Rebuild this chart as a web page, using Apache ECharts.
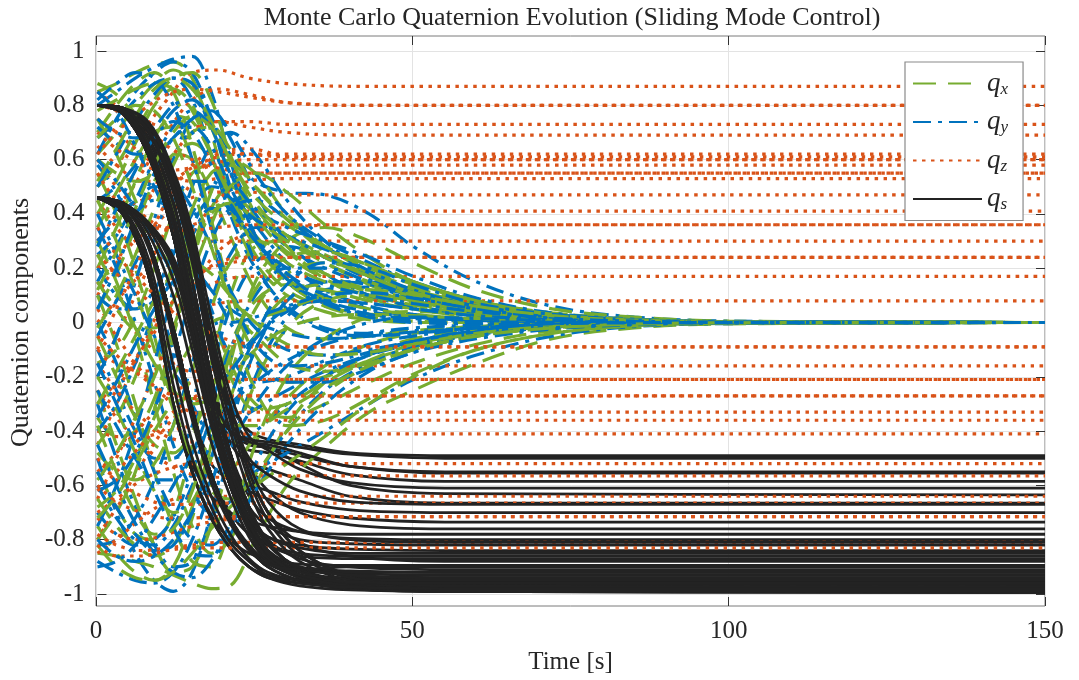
<!DOCTYPE html>
<html><head><meta charset="utf-8">
<script src="https://cdn.jsdelivr.net/npm/echarts@6/dist/echarts.min.js"></script>
<style>html,body{margin:0;padding:0;background:#fff}#c{width:1079px;height:680px}</style>
</head><body><div id="c"></div>
<script>
// ---- data ----
const tXY = [0, 3, 6, 9, 12, 15, 18, 21, 25, 30, 36, 43, 50, 60, 72, 85, 100, 150];
const qxRuns = [
 [0.85, 0.88, 0.92, 0.95, 0.96, 0.90, 0.70, 0.45, 0.25, 0.12, 0.06, 0.03, 0.02, 0.01, 0.005, 0.002, 0, 0],
 [0.62, 0.70, 0.80, 0.88, 0.93, 0.88, 0.72, 0.55, 0.38, 0.25, 0.16, 0.10, 0.06, 0.03, 0.01, 0.004, 0.001, 0],
 [0.40, 0.52, 0.66, 0.80, 0.86, 0.80, 0.62, 0.42, 0.22, 0.10, 0.04, 0.01, 0, 0, 0, 0, 0, 0],
 [0.20, 0.35, 0.52, 0.68, 0.76, 0.74, 0.62, 0.50, 0.40, 0.32, 0.25, 0.18, 0.12, 0.07, 0.03, 0.01, 0.003, 0],
 [0.05, 0.18, 0.35, 0.52, 0.62, 0.60, 0.48, 0.32, 0.12, -0.02, -0.06, -0.05, -0.03, -0.015, -0.005, -0.002, 0, 0],
 [-0.15, -0.10, 0.02, 0.20, 0.40, 0.55, 0.58, 0.48, 0.30, 0.15, 0.06, 0.02, 0.005, 0, 0, 0, 0, 0],
 [-0.35, -0.42, -0.40, -0.28, -0.05, 0.22, 0.42, 0.50, 0.42, 0.28, 0.16, 0.09, 0.05, 0.02, 0.01, 0.003, 0.001, 0],
 [-0.55, -0.68, -0.78, -0.80, -0.70, -0.45, -0.15, 0.10, 0.28, 0.30, 0.22, 0.14, 0.08, 0.04, 0.015, 0.005, 0.001, 0],
 [-0.75, -0.85, -0.92, -0.95, -0.90, -0.72, -0.45, -0.15, 0.15, 0.30, 0.35, 0.30, 0.22, 0.12, 0.05, 0.02, 0.005, 0],
 [-0.85, -0.86, -0.88, -0.90, -0.93, -0.96, -0.98, -0.97, -0.80, -0.60, -0.46, -0.33, -0.25, -0.15, -0.06, -0.02, -0.005, 0],
 [0.75, 0.62, 0.45, 0.30, 0.20, 0.12, 0.02, -0.15, -0.30, -0.35, -0.30, -0.22, -0.15, -0.08, -0.03, -0.01, -0.002, 0],
 [0.55, 0.40, 0.20, -0.05, -0.30, -0.50, -0.60, -0.55, -0.42, -0.28, -0.16, -0.08, -0.04, -0.015, -0.005, 0, 0, 0],
 [0.30, 0.15, -0.05, -0.30, -0.55, -0.75, -0.85, -0.80, -0.60, -0.38, -0.22, -0.12, -0.06, -0.025, -0.008, -0.002, 0, 0],
 [0.10, -0.08, -0.30, -0.55, -0.75, -0.88, -0.90, -0.75, -0.45, -0.20, -0.06, 0.02, 0.04, 0.03, 0.015, 0.005, 0.001, 0],
 [-0.25, -0.45, -0.65, -0.82, -0.92, -0.90, -0.75, -0.50, -0.22, -0.02, 0.08, 0.10, 0.08, 0.05, 0.02, 0.007, 0.002, 0],
 [-0.65, -0.75, -0.82, -0.86, -0.82, -0.68, -0.45, -0.20, 0.05, 0.18, 0.22, 0.18, 0.12, 0.06, 0.025, 0.008, 0.002, 0],
 [0.70, 0.80, 0.88, 0.92, 0.85, 0.65, 0.38, 0.12, -0.12, -0.22, -0.20, -0.14, -0.09, -0.04, -0.015, -0.005, -0.001, 0],
 [0.50, 0.58, 0.70, 0.82, 0.90, 0.92, 0.82, 0.62, 0.40, 0.26, 0.18, 0.12, 0.08, 0.04, 0.015, 0.005, 0.001, 0],
 [-0.45, -0.35, -0.20, 0.00, 0.22, 0.42, 0.55, 0.58, 0.50, 0.38, 0.26, 0.17, 0.11, 0.06, 0.025, 0.008, 0.002, 0],
 [-0.05, -0.20, -0.35, -0.45, -0.48, -0.40, -0.25, -0.08, 0.08, 0.14, 0.12, 0.08, 0.05, 0.025, 0.01, 0.003, 0.001, 0],
 [0.35, 0.48, 0.60, 0.70, 0.72, 0.60, 0.35, 0.05, -0.25, -0.38, -0.36, -0.28, -0.19, -0.10, -0.04, -0.012, -0.003, 0],
 [-0.80, -0.70, -0.55, -0.32, -0.05, 0.25, 0.48, 0.60, 0.55, 0.40, 0.28, 0.19, 0.13, 0.07, 0.03, 0.01, 0.002, 0],
 [0.78, 0.82, 0.86, 0.88, 0.86, 0.78, 0.62, 0.46, 0.32, 0.22, 0.15, 0.10, 0.065, 0.03, 0.012, 0.004, 0.001, 0],
 [0.60, 0.55, 0.52, 0.55, 0.62, 0.66, 0.60, 0.45, 0.28, 0.16, 0.09, 0.05, 0.03, 0.012, 0.005, 0.001, 0, 0],
 [0.15, 0.05, -0.02, -0.02, 0.08, 0.25, 0.40, 0.44, 0.38, 0.30, 0.22, 0.15, 0.10, 0.05, 0.02, 0.006, 0.001, 0],
 [-0.20, -0.32, -0.48, -0.62, -0.70, -0.66, -0.50, -0.28, -0.05, 0.10, 0.14, 0.12, 0.08, 0.04, 0.015, 0.005, 0.001, 0],
 [-0.48, -0.55, -0.58, -0.52, -0.38, -0.18, 0.05, 0.22, 0.30, 0.26, 0.18, 0.11, 0.07, 0.035, 0.014, 0.004, 0.001, 0],
 [-0.68, -0.62, -0.50, -0.35, -0.20, -0.08, 0.00, 0.02, -0.05, -0.15, -0.18, -0.15, -0.10, -0.05, -0.02, -0.006, -0.001, 0],
 [0.45, 0.30, 0.12, -0.10, -0.32, -0.50, -0.62, -0.65, -0.56, -0.40, -0.26, -0.16, -0.10, -0.05, -0.02, -0.006, -0.001, 0],
 [0.88, 0.84, 0.75, 0.60, 0.42, 0.20, -0.02, -0.20, -0.32, -0.30, -0.22, -0.14, -0.08, -0.04, -0.015, -0.005, -0.001, 0],
 [-0.02, 0.10, 0.25, 0.42, 0.58, 0.70, 0.72, 0.64, 0.50, 0.38, 0.28, 0.20, 0.14, 0.08, 0.035, 0.012, 0.003, 0],
 [-0.30, -0.18, -0.05, 0.08, 0.18, 0.22, 0.18, 0.10, 0.00, -0.08, -0.12, -0.11, -0.08, -0.04, -0.015, -0.005, -0.001, 0],
 [0.25, 0.12, -0.02, -0.15, -0.25, -0.30, -0.28, -0.20, -0.10, -0.02, 0.02, 0.03, 0.025, 0.015, 0.006, 0.002, 0, 0],
 [-0.82, -0.90, -0.94, -0.95, -0.92, -0.85, -0.76, -0.68, -0.60, -0.52, -0.42, -0.30, -0.20, -0.10, -0.04, -0.012, -0.003, 0],
 [0.68, 0.75, 0.80, 0.78, 0.68, 0.50, 0.28, 0.10, 0.02, 0.05, 0.10, 0.12, 0.10, 0.06, 0.025, 0.008, 0.002, 0],
 [-0.58, -0.48, -0.35, -0.20, -0.02, 0.18, 0.36, 0.50, 0.55, 0.48, 0.36, 0.24, 0.15, 0.08, 0.03, 0.01, 0.002, 0],
 [0.52, 0.64, 0.76, 0.86, 0.90, 0.86, 0.74, 0.60, 0.46, 0.36, 0.28, 0.21, 0.15, 0.08, 0.035, 0.012, 0.003, 0],
 [-0.38, -0.55, -0.70, -0.78, -0.76, -0.62, -0.38, -0.12, 0.12, 0.24, 0.26, 0.21, 0.15, 0.08, 0.03, 0.01, 0.002, 0],
 [0.12, 0.26, 0.42, 0.58, 0.70, 0.76, 0.72, 0.60, 0.44, 0.32, 0.24, 0.17, 0.11, 0.06, 0.025, 0.008, 0.002, 0],
 [-0.72, -0.64, -0.52, -0.40, -0.30, -0.28, -0.32, -0.38, -0.38, -0.32, -0.24, -0.16, -0.10, -0.05, -0.02, -0.006, -0.001, 0]
];
const qyRuns = [
 [0.80, 0.85, 0.90, 0.94, 0.97, 0.98, 0.85, 0.60, 0.32, 0.15, 0.07, 0.03, 0.015, 0.005, 0.002, 0, 0, 0],
 [0.68, 0.74, 0.82, 0.88, 0.90, 0.82, 0.62, 0.40, 0.20, 0.06, -0.02, -0.04, -0.03, -0.015, -0.005, -0.001, 0, 0],
 [0.45, 0.50, 0.58, 0.68, 0.78, 0.82, 0.75, 0.62, 0.52, 0.48, 0.47, 0.40, 0.28, 0.15, 0.06, 0.02, 0.005, 0],
 [0.25, 0.32, 0.45, 0.60, 0.72, 0.78, 0.72, 0.58, 0.40, 0.28, 0.20, 0.14, 0.09, 0.05, 0.02, 0.007, 0.002, 0],
 [0.10, 0.05, 0.05, 0.12, 0.25, 0.40, 0.50, 0.48, 0.36, 0.22, 0.12, 0.06, 0.03, 0.01, 0.004, 0.001, 0, 0],
 [-0.10, -0.25, -0.40, -0.50, -0.50, -0.38, -0.18, 0.05, 0.22, 0.28, 0.24, 0.17, 0.11, 0.06, 0.025, 0.008, 0.002, 0],
 [-0.30, -0.50, -0.68, -0.82, -0.90, -0.88, -0.72, -0.48, -0.20, 0.02, 0.12, 0.13, 0.10, 0.06, 0.025, 0.008, 0.002, 0],
 [-0.50, -0.70, -0.85, -0.95, -0.99, -0.92, -0.70, -0.40, -0.10, 0.08, 0.15, 0.14, 0.10, 0.05, 0.02, 0.006, 0.001, 0],
 [-0.70, -0.78, -0.82, -0.80, -0.72, -0.55, -0.35, -0.18, -0.05, 0.05, 0.08, 0.07, 0.05, 0.03, 0.012, 0.004, 0.001, 0],
 [-0.82, -0.80, -0.72, -0.58, -0.38, -0.15, 0.08, 0.25, 0.35, 0.32, 0.24, 0.16, 0.10, 0.05, 0.02, 0.006, 0.001, 0],
 [0.58, 0.48, 0.32, 0.12, -0.10, -0.30, -0.42, -0.45, -0.40, -0.30, -0.20, -0.12, -0.07, -0.03, -0.01, -0.003, 0, 0],
 [0.35, 0.20, 0.00, -0.22, -0.45, -0.62, -0.70, -0.66, -0.55, -0.48, -0.40, -0.30, -0.21, -0.12, -0.05, -0.015, -0.004, 0],
 [0.15, 0.28, 0.40, 0.45, 0.40, 0.25, 0.05, -0.12, -0.22, -0.20, -0.14, -0.08, -0.05, -0.02, -0.008, -0.002, 0, 0],
 [-0.20, -0.05, 0.15, 0.38, 0.60, 0.75, 0.78, 0.68, 0.48, 0.30, 0.18, 0.10, 0.06, 0.03, 0.012, 0.004, 0.001, 0],
 [0.62, 0.75, 0.85, 0.92, 0.96, 0.92, 0.75, 0.50, 0.22, 0.05, -0.03, -0.05, -0.04, -0.02, -0.008, -0.002, 0, 0],
 [-0.40, -0.30, -0.15, 0.05, 0.28, 0.50, 0.65, 0.70, 0.62, 0.45, 0.30, 0.18, 0.10, 0.05, 0.02, 0.006, 0.001, 0],
 [-0.60, -0.72, -0.80, -0.82, -0.75, -0.60, -0.45, -0.38, -0.32, -0.25, -0.18, -0.12, -0.08, -0.04, -0.015, -0.005, -0.001, 0],
 [0.00, -0.15, -0.35, -0.55, -0.70, -0.80, -0.82, -0.75, -0.58, -0.40, -0.25, -0.15, -0.09, -0.045, -0.018, -0.006, -0.001, 0],
 [0.85, 0.78, 0.65, 0.50, 0.35, 0.22, 0.12, 0.05, 0.00, -0.04, -0.06, -0.05, -0.035, -0.02, -0.008, -0.003, 0, 0],
 [-0.88, -0.92, -0.95, -0.96, -0.92, -0.80, -0.60, -0.35, -0.10, 0.08, 0.15, 0.15, 0.11, 0.06, 0.025, 0.008, 0.002, 0],
 [0.20, 0.10, 0.05, 0.08, 0.18, 0.32, 0.42, 0.40, 0.30, 0.18, 0.10, 0.05, 0.025, 0.01, 0.004, 0.001, 0, 0],
 [-0.75, -0.60, -0.40, -0.15, 0.12, 0.35, 0.45, 0.42, 0.30, 0.16, 0.07, 0.02, 0, -0.005, -0.003, -0.001, 0, 0],
 [0.72, 0.66, 0.62, 0.62, 0.68, 0.75, 0.78, 0.70, 0.55, 0.40, 0.30, 0.22, 0.15, 0.08, 0.03, 0.01, 0.002, 0],
 [0.50, 0.62, 0.74, 0.84, 0.90, 0.88, 0.76, 0.56, 0.32, 0.16, 0.08, 0.04, 0.02, 0.008, 0.003, 0.001, 0, 0],
 [0.30, 0.38, 0.45, 0.50, 0.50, 0.42, 0.28, 0.12, -0.02, -0.10, -0.12, -0.10, -0.07, -0.035, -0.014, -0.004, -0.001, 0],
 [-0.05, 0.08, 0.22, 0.35, 0.45, 0.52, 0.52, 0.46, 0.38, 0.32, 0.27, 0.21, 0.15, 0.08, 0.03, 0.01, 0.002, 0],
 [-0.25, -0.38, -0.50, -0.58, -0.58, -0.48, -0.30, -0.10, 0.10, 0.20, 0.20, 0.15, 0.10, 0.05, 0.02, 0.006, 0.001, 0],
 [-0.45, -0.60, -0.74, -0.85, -0.92, -0.94, -0.88, -0.74, -0.52, -0.33, -0.20, -0.12, -0.07, -0.03, -0.012, -0.004, -0.001, 0],
 [-0.62, -0.58, -0.48, -0.32, -0.12, 0.10, 0.30, 0.42, 0.45, 0.38, 0.28, 0.19, 0.12, 0.06, 0.025, 0.008, 0.002, 0],
 [0.82, 0.88, 0.92, 0.90, 0.80, 0.60, 0.35, 0.12, -0.08, -0.16, -0.15, -0.11, -0.07, -0.035, -0.014, -0.004, -0.001, 0],
 [0.40, 0.25, 0.10, -0.05, -0.18, -0.25, -0.25, -0.18, -0.06, 0.04, 0.08, 0.07, 0.05, 0.025, 0.01, 0.003, 0.001, 0],
 [-0.15, -0.30, -0.45, -0.62, -0.76, -0.85, -0.86, -0.78, -0.62, -0.45, -0.30, -0.18, -0.11, -0.05, -0.02, -0.006, -0.001, 0],
 [0.05, 0.20, 0.38, 0.55, 0.68, 0.72, 0.65, 0.50, 0.32, 0.18, 0.08, 0.03, 0.01, 0.003, 0.001, 0, 0, 0],
 [-0.80, -0.86, -0.88, -0.86, -0.80, -0.70, -0.58, -0.45, -0.30, -0.16, -0.06, 0.00, 0.02, 0.015, 0.007, 0.002, 0, 0],
 [0.60, 0.52, 0.42, 0.30, 0.18, 0.08, 0.02, 0.00, 0.02, 0.06, 0.10, 0.11, 0.09, 0.05, 0.02, 0.007, 0.002, 0],
 [-0.35, -0.22, -0.08, 0.05, 0.15, 0.18, 0.12, 0.00, -0.14, -0.22, -0.22, -0.17, -0.11, -0.06, -0.024, -0.008, -0.002, 0],
 [0.75, 0.70, 0.68, 0.72, 0.80, 0.82, 0.72, 0.55, 0.42, 0.35, 0.30, 0.24, 0.17, 0.09, 0.035, 0.012, 0.003, 0],
 [-0.55, -0.68, -0.78, -0.84, -0.82, -0.70, -0.50, -0.28, -0.05, 0.14, 0.22, 0.20, 0.14, 0.07, 0.03, 0.01, 0.002, 0],
 [0.28, 0.42, 0.56, 0.68, 0.74, 0.70, 0.58, 0.44, 0.30, 0.20, 0.14, 0.10, 0.07, 0.04, 0.016, 0.005, 0.001, 0],
 [-0.90, -0.88, -0.82, -0.72, -0.60, -0.48, -0.38, -0.30, -0.22, -0.14, -0.08, -0.04, -0.02, -0.01, -0.004, -0.001, 0, 0]
];
const tZ = [0, 3, 7, 11, 15, 19, 24, 30, 40, 150];
const qzRuns = [
 [0.50, 0.58, 0.70, 0.82, 0.92, 0.93, 0.90, 0.88, 0.87, 0.87],
 [0.30, 0.40, 0.55, 0.70, 0.82, 0.86, 0.84, 0.81, 0.80, 0.80],
 [0.85, 0.80, 0.75, 0.72, 0.72, 0.74, 0.74, 0.73, 0.73, 0.73],
 [0.10, 0.22, 0.40, 0.58, 0.70, 0.74, 0.72, 0.70, 0.69, 0.69],
 [0.65, 0.58, 0.52, 0.52, 0.57, 0.61, 0.62, 0.62, 0.62, 0.62],
 [-0.20, -0.05, 0.15, 0.35, 0.52, 0.62, 0.64, 0.61, 0.60, 0.60],
 [0.40, 0.42, 0.45, 0.50, 0.55, 0.58, 0.58, 0.58, 0.58, 0.58],
 [0.75, 0.70, 0.62, 0.55, 0.52, 0.53, 0.55, 0.55, 0.55, 0.55],
 [-0.45, -0.30, -0.10, 0.12, 0.32, 0.45, 0.52, 0.53, 0.53, 0.53],
 [0.20, 0.25, 0.32, 0.40, 0.46, 0.48, 0.48, 0.47, 0.47, 0.47],
 [0.60, 0.50, 0.40, 0.35, 0.36, 0.39, 0.41, 0.41, 0.41, 0.41],
 [-0.65, -0.50, -0.30, -0.08, 0.12, 0.26, 0.33, 0.35, 0.36, 0.36],
 [0.00, 0.08, 0.18, 0.25, 0.29, 0.30, 0.30, 0.30, 0.30, 0.30],
 [0.45, 0.35, 0.25, 0.18, 0.18, 0.21, 0.23, 0.24, 0.24, 0.24],
 [-0.30, -0.22, -0.10, 0.02, 0.10, 0.15, 0.17, 0.17, 0.17, 0.17],
 [0.25, 0.18, 0.10, 0.05, 0.05, 0.07, 0.08, 0.08, 0.08, 0.08],
 [-0.10, -0.15, -0.18, -0.16, -0.12, -0.09, -0.09, -0.09, -0.09, -0.09],
 [0.15, 0.05, -0.06, -0.14, -0.18, -0.17, -0.16, -0.16, -0.16, -0.16],
 [-0.55, -0.48, -0.38, -0.28, -0.22, -0.21, -0.21, -0.21, -0.21, -0.21],
 [-0.80, -0.68, -0.52, -0.38, -0.30, -0.27, -0.27, -0.27, -0.27, -0.27],
 [0.05, -0.05, -0.18, -0.28, -0.33, -0.34, -0.33, -0.33, -0.33, -0.33],
 [-0.40, -0.42, -0.42, -0.40, -0.38, -0.36, -0.36, -0.36, -0.36, -0.36],
 [-0.15, -0.25, -0.35, -0.42, -0.44, -0.42, -0.41, -0.41, -0.41, -0.41],
 [-0.70, -0.65, -0.58, -0.54, -0.52, -0.52, -0.52, -0.52, -0.52, -0.52],
 [-0.25, -0.35, -0.45, -0.52, -0.56, -0.57, -0.565, -0.565, -0.565, -0.565],
 [-0.85, -0.80, -0.72, -0.66, -0.64, -0.64, -0.64, -0.64, -0.64, -0.64],
 [-0.50, -0.58, -0.64, -0.67, -0.67, -0.665, -0.665, -0.665, -0.665, -0.665],
 [-0.60, -0.66, -0.70, -0.72, -0.72, -0.715, -0.715, -0.715, -0.715, -0.715],
 [-0.78, -0.82, -0.84, -0.83, -0.82, -0.81, -0.81, -0.81, -0.81, -0.81],
 [0.80, 0.78, 0.72, 0.65, 0.60, 0.57, 0.55, 0.55, 0.55, 0.55],
 [0.62, 0.70, 0.78, 0.84, 0.86, 0.85, 0.83, 0.81, 0.80, 0.80],
 [-0.10, 0.05, 0.25, 0.45, 0.58, 0.63, 0.62, 0.61, 0.61, 0.61],
 [0.70, 0.64, 0.58, 0.56, 0.57, 0.59, 0.60, 0.60, 0.60, 0.60],
 [-0.35, -0.25, -0.10, 0.05, 0.15, 0.22, 0.24, 0.24, 0.24, 0.24],
 [-0.62, -0.55, -0.45, -0.35, -0.28, -0.23, -0.21, -0.21, -0.21, -0.21],
 [-0.72, -0.78, -0.80, -0.78, -0.75, -0.73, -0.72, -0.715, -0.715, -0.715],
 [0.35, 0.25, 0.15, 0.06, 0.00, -0.05, -0.08, -0.09, -0.09, -0.09],
 [-0.82, -0.86, -0.86, -0.84, -0.83, -0.83, -0.83, -0.83, -0.83, -0.83],
 [0.55, 0.45, 0.38, 0.34, 0.34, 0.35, 0.36, 0.36, 0.36, 0.36],
 [-0.05, -0.12, -0.20, -0.26, -0.28, -0.27, -0.27, -0.27, -0.27, -0.27]
];
const tS = [0, 4, 8, 12, 15, 18, 21, 24, 27, 32, 40, 55, 150];
const qsRuns = [
 [0.80, 0.79, 0.72, 0.52, 0.28, -0.06, -0.30, -0.40, -0.43, -0.45, -0.48, -0.49, -0.49],
 [0.80, 0.78, 0.68, 0.44, 0.15, -0.20, -0.40, -0.45, -0.46, -0.49, -0.53, -0.555, -0.555],
 [0.46, 0.44, 0.36, 0.22, -0.02, -0.30, -0.44, -0.47, -0.48, -0.51, -0.56, -0.585, -0.585],
 [0.80, 0.79, 0.72, 0.52, 0.28, -0.06, -0.32, -0.44, -0.46, -0.52, -0.60, -0.63, -0.635],
 [0.80, 0.78, 0.68, 0.44, 0.15, -0.20, -0.44, -0.52, -0.54, -0.58, -0.64, -0.665, -0.665],
 [0.46, 0.43, 0.30, -0.02, -0.32, -0.52, -0.58, -0.60, -0.62, -0.66, -0.69, -0.70, -0.70],
 [0.80, 0.77, 0.62, 0.32, -0.02, -0.36, -0.55, -0.62, -0.65, -0.69, -0.72, -0.735, -0.735],
 [0.80, 0.79, 0.72, 0.52, 0.28, -0.06, -0.32, -0.52, -0.62, -0.70, -0.745, -0.76, -0.76],
 [0.46, 0.40, 0.18, -0.30, -0.52, -0.64, -0.70, -0.73, -0.75, -0.77, -0.78, -0.78, -0.78],
 [0.80, 0.78, 0.68, 0.44, 0.15, -0.20, -0.48, -0.64, -0.72, -0.77, -0.795, -0.80, -0.80],
 [0.46, 0.44, 0.36, 0.22, -0.02, -0.32, -0.54, -0.68, -0.75, -0.80, -0.815, -0.82, -0.82],
 [0.80, 0.77, 0.62, 0.32, -0.02, -0.36, -0.60, -0.73, -0.79, -0.82, -0.835, -0.84, -0.84],
 [0.46, 0.43, 0.30, -0.02, -0.32, -0.56, -0.70, -0.78, -0.82, -0.85, -0.86, -0.86, -0.86],
 [0.80, 0.79, 0.72, 0.52, 0.28, -0.06, -0.32, -0.55, -0.70, -0.81, -0.86, -0.88, -0.88],
 [0.46, 0.40, 0.18, -0.30, -0.55, -0.71, -0.80, -0.85, -0.87, -0.89, -0.895, -0.895, -0.895],
 [0.80, 0.78, 0.68, 0.44, 0.15, -0.20, -0.48, -0.68, -0.80, -0.87, -0.90, -0.91, -0.91],
 [0.46, 0.44, 0.36, 0.22, -0.02, -0.32, -0.56, -0.74, -0.84, -0.90, -0.915, -0.92, -0.92],
 [0.80, 0.77, 0.62, 0.32, -0.02, -0.36, -0.60, -0.76, -0.85, -0.91, -0.925, -0.93, -0.93],
 [0.46, 0.43, 0.30, -0.02, -0.32, -0.56, -0.72, -0.83, -0.89, -0.93, -0.94, -0.94, -0.94],
 [0.80, 0.78, 0.68, 0.44, 0.15, -0.20, -0.48, -0.68, -0.81, -0.91, -0.945, -0.95, -0.95],
 [0.46, 0.40, 0.18, -0.30, -0.55, -0.72, -0.83, -0.90, -0.93, -0.95, -0.955, -0.955, -0.955],
 [0.80, 0.79, 0.72, 0.52, 0.28, -0.06, -0.32, -0.55, -0.70, -0.84, -0.93, -0.955, -0.96],
 [0.80, 0.77, 0.62, 0.32, -0.02, -0.36, -0.60, -0.76, -0.86, -0.94, -0.96, -0.965, -0.965],
 [0.46, 0.44, 0.36, 0.22, -0.02, -0.32, -0.56, -0.74, -0.85, -0.93, -0.965, -0.97, -0.97],
 [0.80, 0.78, 0.68, 0.44, 0.15, -0.20, -0.48, -0.68, -0.81, -0.91, -0.96, -0.975, -0.975],
 [0.46, 0.43, 0.30, -0.02, -0.32, -0.56, -0.72, -0.83, -0.90, -0.95, -0.975, -0.98, -0.98],
 [0.80, 0.77, 0.62, 0.32, -0.02, -0.36, -0.60, -0.76, -0.86, -0.94, -0.975, -0.985, -0.985],
 [0.46, 0.40, 0.18, -0.30, -0.55, -0.72, -0.83, -0.90, -0.94, -0.97, -0.985, -0.99, -0.99],
 [0.80, 0.79, 0.72, 0.52, 0.28, -0.06, -0.32, -0.55, -0.70, -0.84, -0.93, -0.975, -0.99],
 [0.80, 0.78, 0.68, 0.44, 0.15, -0.20, -0.48, -0.68, -0.81, -0.91, -0.965, -0.99, -0.995],
 [0.46, 0.43, 0.30, -0.02, -0.32, -0.56, -0.72, -0.83, -0.90, -0.95, -0.98, -0.99, -0.995],
 [0.46, 0.44, 0.36, 0.22, -0.02, -0.28, -0.40, -0.43, -0.44, -0.46, -0.485, -0.50, -0.50],
 [0.80, 0.77, 0.62, 0.32, -0.02, -0.36, -0.60, -0.76, -0.86, -0.94, -0.975, -0.99, -0.99],
 [0.46, 0.43, 0.30, -0.02, -0.32, -0.56, -0.72, -0.82, -0.88, -0.91, -0.92, -0.92, -0.92],
 [0.80, 0.79, 0.72, 0.52, 0.28, -0.06, -0.34, -0.50, -0.56, -0.62, -0.66, -0.67, -0.67],
 [0.46, 0.40, 0.18, -0.30, -0.55, -0.72, -0.83, -0.90, -0.94, -0.96, -0.97, -0.97, -0.97],
 [0.80, 0.78, 0.68, 0.44, 0.15, -0.20, -0.48, -0.68, -0.81, -0.91, -0.96, -0.98, -0.985],
 [0.46, 0.44, 0.36, 0.22, -0.02, -0.32, -0.56, -0.74, -0.85, -0.92, -0.945, -0.95, -0.95],
 [0.80, 0.77, 0.62, 0.32, -0.02, -0.36, -0.60, -0.75, -0.82, -0.86, -0.87, -0.87, -0.87],
 [0.46, 0.43, 0.30, -0.02, -0.32, -0.56, -0.72, -0.83, -0.90, -0.95, -0.98, -0.99, -0.99],
 [0.80, 0.78, 0.65, 0.38, 0.06, -0.28, -0.54, -0.72, -0.84, -0.93, -0.965, -0.97, -0.97],
 [0.80, 0.785, 0.70, 0.48, 0.22, -0.13, -0.40, -0.62, -0.76, -0.88, -0.95, -0.98, -0.985],
 [0.46, 0.42, 0.24, -0.16, -0.44, -0.64, -0.78, -0.87, -0.92, -0.95, -0.96, -0.96, -0.96],
 [0.46, 0.435, 0.33, 0.10, -0.17, -0.44, -0.64, -0.79, -0.88, -0.94, -0.975, -0.99, -0.99],
 [0.80, 0.79, 0.74, 0.56, 0.34, 0.02, -0.26, -0.42, -0.47, -0.54, -0.59, -0.61, -0.61],
 [0.46, 0.44, 0.37, 0.24, 0.02, -0.26, -0.40, -0.44, -0.45, -0.48, -0.53, -0.55, -0.55],
 [0.80, 0.775, 0.64, 0.36, 0.03, -0.31, -0.57, -0.74, -0.85, -0.93, -0.97, -0.985, -0.99],
 [0.80, 0.785, 0.71, 0.50, 0.25, -0.10, -0.36, -0.58, -0.73, -0.86, -0.94, -0.97, -0.975],
 [0.46, 0.41, 0.21, -0.23, -0.50, -0.68, -0.81, -0.88, -0.93, -0.96, -0.975, -0.98, -0.98],
 [0.46, 0.44, 0.35, 0.16, -0.10, -0.38, -0.60, -0.77, -0.87, -0.93, -0.955, -0.96, -0.96],
 [0.80, 0.78, 0.66, 0.40, 0.10, -0.24, -0.51, -0.70, -0.82, -0.90, -0.93, -0.94, -0.94],
 [0.46, 0.43, 0.28, -0.06, -0.36, -0.59, -0.74, -0.84, -0.89, -0.91, -0.90, -0.90, -0.90],
 [0.80, 0.79, 0.73, 0.54, 0.31, -0.03, -0.30, -0.52, -0.66, -0.76, -0.80, -0.81, -0.81],
 [0.46, 0.44, 0.36, 0.20, -0.06, -0.35, -0.58, -0.72, -0.79, -0.83, -0.85, -0.85, -0.85]
];
const seriesNames = ['q_x', 'q_y', 'q_z', 'q_s'];
const titleText = 'Monte Carlo Quaternion Evolution (Sliding Mode Control)';
const xName = 'Time [s]';
const yName = 'Quaternion components';

// ---- styling ----
const FONT = '"Liberation Serif", "Times New Roman", serif';
const TXT = '#262626';
const lineStyles = {
  q_x: { color: '#77AC30', width: 3.2, type: [23, 12] },
  q_y: { color: '#0072BD', width: 3.2, type: [18, 7, 4, 7] },
  q_z: { color: '#D95319', width: 3.2, type: [3.5, 5.5] },
  q_s: { color: '#232323', width: 2.8, type: 'solid' }
};
function mk(name, t, run) {
  return {
    type: 'line', name: name, xAxisIndex: 2, yAxisIndex: 1,
    data: t.map((tt, i) => [tt, run[i]]),
    symbol: 'none', showSymbol: false, smooth: 0.35,
    lineStyle: Object.assign({ cap: 'butt' }, lineStyles[name]),
    itemStyle: { color: lineStyles[name].color },
    silent: true, emphasis: { disabled: true }, animation: false
  };
}
const series = [];
const nRuns = Math.max(qxRuns.length, qyRuns.length, qzRuns.length, qsRuns.length);
for (let i = 0; i < nRuns; i++) {
  if (qxRuns[i]) series.push(mk('q_x', tXY, qxRuns[i]));
  if (qyRuns[i]) series.push(mk('q_y', tXY, qyRuns[i]));
  if (qzRuns[i]) series.push(mk('q_z', tZ, qzRuns[i]));
  if (qsRuns[i]) series.push(mk('q_s', tS, qsRuns[i]));
}

const chart = echarts.init(document.getElementById('c'), null, { renderer: 'canvas' });
const tickStyle = { color: '#333', width: 1 };
chart.setOption({
  animation: false,
  backgroundColor: '#fff',
  graphic: [{
    type: 'text', x: 572, y: 18, z: 100,
    style: { text: titleText, font: '26px ' + FONT, fill: TXT, align: 'center', verticalAlign: 'middle' }
  }],
  grid: [
    { left: 96, right: 34, top: 36, bottom: 74, show: true, borderColor: '#7a7a7a', borderWidth: 1, backgroundColor: 'transparent' },
    { left: 96, right: 34, top: 51, bottom: 86, show: false }
  ],
  xAxis: [
    { gridIndex: 0, type: 'value', min: 0, max: 150, interval: 50, position: 'bottom',
      axisLine: { show: false, onZero: false },
      axisTick: { show: true, inside: true, length: 9, lineStyle: tickStyle },
      axisLabel: { fontFamily: FONT, fontSize: 25, color: TXT, margin: 13 },
      splitLine: { show: true, lineStyle: { color: '#e3e3e3', width: 1 } },
      name: xName, nameLocation: 'middle', nameGap: 44,
      nameTextStyle: { fontFamily: FONT, fontSize: 25, color: TXT } },
    { gridIndex: 0, type: 'value', min: 0, max: 150, interval: 50, position: 'top',
      axisLine: { show: false, onZero: false },
      axisTick: { show: true, inside: true, length: 9, lineStyle: tickStyle },
      axisLabel: { show: false }, splitLine: { show: false } },
    { gridIndex: 1, type: 'value', min: 0, max: 150, show: false, axisLine: { onZero: false } }
  ],
  yAxis: [
    { gridIndex: 0, type: 'value', min: 0, max: 1, show: false, axisLine: { onZero: false } },
    { gridIndex: 1, type: 'value', min: -1, max: 1, interval: 0.2, position: 'left',
      axisLine: { show: false, onZero: false },
      axisTick: { show: true, inside: true, length: 9, lineStyle: tickStyle },
      axisLabel: { fontFamily: FONT, fontSize: 25, color: TXT, margin: 13,
        formatter: v => String(Math.round(v * 10) / 10) },
      splitLine: { show: true, lineStyle: { color: '#e3e3e3', width: 1 } },
      name: yName, nameLocation: 'middle', nameGap: 62,
      nameTextStyle: { fontFamily: FONT, fontSize: 26, color: TXT } },
    { gridIndex: 1, type: 'value', min: -1, max: 1, interval: 0.2, position: 'right',
      axisLine: { show: false, onZero: false },
      axisTick: { show: true, inside: true, length: 9, lineStyle: tickStyle },
      axisLabel: { show: false }, splitLine: { show: false } }
  ],
  legend: {
    show: true, orient: 'vertical', left: 905, top: 62, z: 50,
    data: seriesNames.map(n => ({ name: n })),
    selectedMode: false,
    itemWidth: 69, itemHeight: 14, itemGap: 9.5,
    padding: [7, 15, 7, 7],
    itemStyle: { opacity: 0 },
    backgroundColor: '#fff', borderColor: '#8a8a8a', borderWidth: 1.2, borderRadius: 0,
    formatter: n => '{q|q}{s|' + n.slice(2) + '}',
    textStyle: {
      rich: {
        q: { fontFamily: FONT, fontStyle: 'italic', fontSize: 27, color: TXT, lineHeight: 26 },
        s: { fontFamily: FONT, fontStyle: 'italic', fontSize: 17, color: TXT, lineHeight: 16, padding: [12, 0, 0, 0] }
      }
    }
  },
  series: series
});
</script>
</body></html>
